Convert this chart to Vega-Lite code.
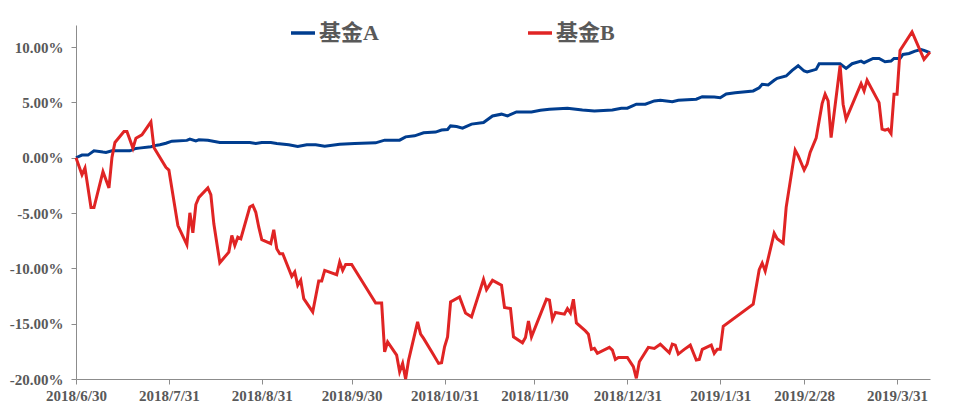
{
  "$schema": "https://vega.github.io/schema/vega-lite/v6.json",
  "width": 854,
  "height": 354,
  "autosize": "none",
  "padding": {"left": 76, "top": 25, "right": 48, "bottom": 37},
  "background": "white",
  "config": {"view": {"stroke": null}},
  "datasets": {
    "a": [
      {"date":"2018-06-30","value":0},{"date":"2018-07-02","value":0.24},{"date":"2018-07-04","value":0.24},{"date":"2018-07-06","value":0.63},{"date":"2018-07-09","value":0.51},{"date":"2018-07-10","value":0.48},{"date":"2018-07-12","value":0.63},{"date":"2018-07-18","value":0.63},{"date":"2018-07-20","value":0.84},{"date":"2018-07-21","value":0.87},{"date":"2018-07-25","value":0.99},{"date":"2018-07-27","value":1.14},{"date":"2018-07-28","value":1.17},{"date":"2018-07-30","value":1.31},{"date":"2018-08-01","value":1.5},{"date":"2018-08-06","value":1.57},{"date":"2018-08-07","value":1.69},{"date":"2018-08-09","value":1.53},{"date":"2018-08-10","value":1.62},{"date":"2018-08-13","value":1.59},{"date":"2018-08-17","value":1.38},{"date":"2018-08-27","value":1.38},{"date":"2018-08-29","value":1.29},{"date":"2018-08-31","value":1.38},{"date":"2018-09-03","value":1.38},{"date":"2018-09-05","value":1.29},{"date":"2018-09-09","value":1.17},{"date":"2018-09-12","value":1.02},{"date":"2018-09-15","value":1.17},{"date":"2018-09-18","value":1.17},{"date":"2018-09-21","value":1.05},{"date":"2018-09-26","value":1.22},{"date":"2018-10-01","value":1.29},{"date":"2018-10-08","value":1.35},{"date":"2018-10-11","value":1.59},{"date":"2018-10-16","value":1.59},{"date":"2018-10-18","value":1.89},{"date":"2018-10-21","value":1.98},{"date":"2018-10-24","value":2.25},{"date":"2018-10-28","value":2.32},{"date":"2018-10-30","value":2.5},{"date":"2018-11-01","value":2.55},{"date":"2018-11-02","value":2.88},{"date":"2018-11-04","value":2.82},{"date":"2018-11-06","value":2.68},{"date":"2018-11-09","value":3.04},{"date":"2018-11-13","value":3.18},{"date":"2018-11-16","value":3.78},{"date":"2018-11-19","value":3.94},{"date":"2018-11-21","value":3.78},{"date":"2018-11-24","value":4.14},{"date":"2018-11-29","value":4.14},{"date":"2018-12-02","value":4.3},{"date":"2018-12-05","value":4.39},{"date":"2018-12-11","value":4.48},{"date":"2018-12-16","value":4.32},{"date":"2018-12-20","value":4.23},{"date":"2018-12-26","value":4.32},{"date":"2018-12-29","value":4.48},{"date":"2018-12-31","value":4.48},{"date":"2019-01-03","value":4.84},{"date":"2019-01-06","value":4.84},{"date":"2019-01-09","value":5.14},{"date":"2019-01-11","value":5.2},{"date":"2019-01-15","value":5.07},{"date":"2019-01-17","value":5.2},{"date":"2019-01-23","value":5.29},{"date":"2019-01-25","value":5.52},{"date":"2019-01-29","value":5.5},{"date":"2019-01-31","value":5.43},{"date":"2019-02-02","value":5.77},{"date":"2019-02-05","value":5.88},{"date":"2019-02-11","value":6.04},{"date":"2019-02-13","value":6.33},{"date":"2019-02-14","value":6.64},{"date":"2019-02-16","value":6.58},{"date":"2019-02-18","value":7.0},{"date":"2019-02-19","value":7.18},{"date":"2019-02-22","value":7.39},{"date":"2019-02-24","value":7.9},{"date":"2019-02-26","value":8.32},{"date":"2019-02-28","value":7.84},{"date":"2019-03-01","value":7.75},{"date":"2019-03-04","value":7.99},{"date":"2019-03-05","value":8.5},{"date":"2019-03-12","value":8.5},{"date":"2019-03-14","value":8.08},{"date":"2019-03-16","value":8.5},{"date":"2019-03-19","value":8.74},{"date":"2019-03-20","value":8.59},{"date":"2019-03-23","value":8.98},{"date":"2019-03-25","value":8.98},{"date":"2019-03-27","value":8.68},{"date":"2019-03-29","value":8.74},{"date":"2019-03-30","value":8.98},{"date":"2019-04-01","value":8.98},{"date":"2019-04-02","value":9.34},{"date":"2019-04-04","value":9.43},{"date":"2019-04-06","value":9.64},{"date":"2019-04-08","value":9.79},{"date":"2019-04-09","value":9.7},{"date":"2019-04-11","value":9.49}
    ],
    "b": [
      {"date":"2018-06-30","value":0},{"date":"2018-07-02","value":-1.53},{"date":"2018-07-03","value":-0.93},{"date":"2018-07-05","value":-4.5},{"date":"2018-07-06","value":-4.5},{"date":"2018-07-09","value":-1.26},{"date":"2018-07-11","value":-2.73},{"date":"2018-07-12","value":0.03},{"date":"2018-07-13","value":1.38},{"date":"2018-07-16","value":2.37},{"date":"2018-07-17","value":2.37},{"date":"2018-07-19","value":0.87},{"date":"2018-07-20","value":1.77},{"date":"2018-07-22","value":2.07},{"date":"2018-07-25","value":3.24},{"date":"2018-07-26","value":0.93},{"date":"2018-07-30","value":-0.87},{"date":"2018-07-31","value":-1.11},{"date":"2018-08-03","value":-6.13},{"date":"2018-08-06","value":-7.86},{"date":"2018-08-07","value":-4.98},{"date":"2018-08-08","value":-6.78},{"date":"2018-08-09","value":-4.23},{"date":"2018-08-10","value":-3.58},{"date":"2018-08-13","value":-2.73},{"date":"2018-08-14","value":-3.33},{"date":"2018-08-15","value":-5.97},{"date":"2018-08-17","value":-9.49},{"date":"2018-08-20","value":-8.53},{"date":"2018-08-21","value":-7.03},{"date":"2018-08-22","value":-7.93},{"date":"2018-08-23","value":-7.18},{"date":"2018-08-24","value":-7.32},{"date":"2018-08-27","value":-4.45},{"date":"2018-08-28","value":-4.3},{"date":"2018-08-29","value":-4.93},{"date":"2018-08-30","value":-6.28},{"date":"2018-08-31","value":-7.41},{"date":"2018-09-03","value":-7.77},{"date":"2018-09-04","value":-6.51},{"date":"2018-09-05","value":-8.23},{"date":"2018-09-06","value":-8.68},{"date":"2018-09-07","value":-8.68},{"date":"2018-09-10","value":-10.72},{"date":"2018-09-11","value":-10.33},{"date":"2018-09-12","value":-11.53},{"date":"2018-09-13","value":-11.08},{"date":"2018-09-14","value":-12.73},{"date":"2018-09-17","value":-13.94},{"date":"2018-09-19","value":-11.14},{"date":"2018-09-20","value":-11.14},{"date":"2018-09-21","value":-10.18},{"date":"2018-09-25","value":-10.57},{"date":"2018-09-26","value":-9.43},{"date":"2018-09-27","value":-10.18},{"date":"2018-09-28","value":-9.64},{"date":"2018-09-30","value":-9.64},{"date":"2018-10-08","value":-13.13},{"date":"2018-10-10","value":-13.13},{"date":"2018-10-11","value":-17.54},{"date":"2018-10-12","value":-16.64},{"date":"2018-10-15","value":-17.84},{"date":"2018-10-16","value":-19.34},{"date":"2018-10-17","value":-18.59},{"date":"2018-10-18","value":-20.0},{"date":"2018-10-19","value":-18.29},{"date":"2018-10-22","value":-14.84},{"date":"2018-10-23","value":-15.95},{"date":"2018-10-24","value":-16.33},{"date":"2018-10-27","value":-17.68},{"date":"2018-10-29","value":-18.59},{"date":"2018-10-30","value":-18.53},{"date":"2018-10-31","value":-17.09},{"date":"2018-11-01","value":-16.19},{"date":"2018-11-02","value":-13.04},{"date":"2018-11-05","value":-12.59},{"date":"2018-11-07","value":-14.03},{"date":"2018-11-09","value":-14.39},{"date":"2018-11-13","value":-10.99},{"date":"2018-11-14","value":-11.92},{"date":"2018-11-16","value":-11.08},{"date":"2018-11-19","value":-11.53},{"date":"2018-11-20","value":-13.54},{"date":"2018-11-22","value":-13.63},{"date":"2018-11-23","value":-16.19},{"date":"2018-11-26","value":-16.73},{"date":"2018-11-27","value":-16.24},{"date":"2018-11-28","value":-14.77},{"date":"2018-11-29","value":-16.19},{"date":"2018-12-04","value":-12.79},{"date":"2018-12-05","value":-12.88},{"date":"2018-12-06","value":-14.62},{"date":"2018-12-07","value":-13.99},{"date":"2018-12-10","value":-14.14},{"date":"2018-12-11","value":-13.63},{"date":"2018-12-12","value":-14.03},{"date":"2018-12-13","value":-12.79},{"date":"2018-12-14","value":-14.93},{"date":"2018-12-17","value":-15.65},{"date":"2018-12-18","value":-15.95},{"date":"2018-12-19","value":-17.32},{"date":"2018-12-20","value":-17.23},{"date":"2018-12-21","value":-17.68},{"date":"2018-12-25","value":-17.14},{"date":"2018-12-26","value":-17.39},{"date":"2018-12-27","value":-18.23},{"date":"2018-12-28","value":-18.05},{"date":"2018-12-31","value":-18.05},{"date":"2019-01-02","value":-18.89},{"date":"2019-01-03","value":-19.94},{"date":"2019-01-04","value":-18.44},{"date":"2019-01-07","value":-17.14},{"date":"2019-01-09","value":-17.23},{"date":"2019-01-11","value":-16.85},{"date":"2019-01-14","value":-17.63},{"date":"2019-01-15","value":-16.85},{"date":"2019-01-16","value":-16.94},{"date":"2019-01-17","value":-17.75},{"date":"2019-01-19","value":-17.32},{"date":"2019-01-21","value":-16.94},{"date":"2019-01-23","value":-18.29},{"date":"2019-01-24","value":-18.23},{"date":"2019-01-25","value":-17.32},{"date":"2019-01-28","value":-16.94},{"date":"2019-01-29","value":-17.68},{"date":"2019-01-30","value":-17.32},{"date":"2019-01-31","value":-17.32},{"date":"2019-02-01","value":-15.23},{"date":"2019-02-11","value":-13.24},{"date":"2019-02-13","value":-10.12},{"date":"2019-02-14","value":-9.52},{"date":"2019-02-15","value":-10.24},{"date":"2019-02-18","value":-6.82},{"date":"2019-02-19","value":-7.32},{"date":"2019-02-21","value":-7.72},{"date":"2019-02-22","value":-4.48},{"date":"2019-02-25","value":0.69},{"date":"2019-02-26","value":0.18},{"date":"2019-02-28","value":-1.11},{"date":"2019-03-01","value":-0.57},{"date":"2019-03-02","value":0.48},{"date":"2019-03-04","value":1.77},{"date":"2019-03-06","value":4.89},{"date":"2019-03-07","value":5.74},{"date":"2019-03-08","value":5.14},{"date":"2019-03-09","value":1.83},{"date":"2019-03-12","value":8.35},{"date":"2019-03-13","value":4.84},{"date":"2019-03-14","value":3.49},{"date":"2019-03-19","value":6.69},{"date":"2019-03-20","value":6.04},{"date":"2019-03-21","value":7.0},{"date":"2019-03-25","value":4.98},{"date":"2019-03-26","value":2.59},{"date":"2019-03-27","value":2.5},{"date":"2019-03-28","value":2.59},{"date":"2019-03-29","value":2.19},{"date":"2019-03-30","value":5.74},{"date":"2019-03-31","value":5.74},{"date":"2019-04-01","value":9.7},{"date":"2019-04-05","value":11.38},{"date":"2019-04-09","value":8.89},{"date":"2019-04-11","value":9.55}
    ]
  },
  "layer": [
    {
      "data": {"name": "a"},
      "mark": {"type": "line", "strokeWidth": 3},
      "encoding": {
        "x": {"field": "date", "type": "temporal"},
        "y": {"field": "value", "type": "quantitative"},
        "color": {"datum": "基金A"}
      }
    },
    {
      "data": {"name": "b"},
      "mark": {"type": "line", "strokeWidth": 3},
      "encoding": {
        "x": {"field": "date", "type": "temporal"},
        "y": {"field": "value", "type": "quantitative"},
        "color": {"datum": "基金B"}
      }
    }
  ],
  "encoding": {
    "x": {
      "field": "date",
      "type": "temporal",
      "title": null,
      "scale": {
        "type": "utc",
        "domain": [
          {"year": 2018, "month": 6, "date": 30, "utc": true},
          {"year": 2019, "month": 4, "date": 11, "utc": true}
        ],
        "nice": false
      },
      "axis": {
        "values": [
          {"year": 2018, "month": 6, "date": 30, "utc": true},
          {"year": 2018, "month": 7, "date": 31, "utc": true},
          {"year": 2018, "month": 8, "date": 31, "utc": true},
          {"year": 2018, "month": 9, "date": 30, "utc": true},
          {"year": 2018, "month": 10, "date": 31, "utc": true},
          {"year": 2018, "month": 11, "date": 30, "utc": true},
          {"year": 2018, "month": 12, "date": 31, "utc": true},
          {"year": 2019, "month": 1, "date": 31, "utc": true},
          {"year": 2019, "month": 2, "date": 28, "utc": true},
          {"year": 2019, "month": 3, "date": 31, "utc": true}
        ],
        "format": "%Y/%-m/%-d",
        "grid": false,
        "domainColor": "#8c8c8c",
        "tickColor": "#8c8c8c",
        "tickSize": 5,
        "labelFont": "Liberation Serif",
        "labelFontWeight": "bold",
        "labelFontSize": 15,
        "labelColor": "#595959",
        "labelPadding": 4,
        "labelFlush": false,
        "labelOverlap": false
      }
    },
    "y": {
      "field": "value",
      "type": "quantitative",
      "title": null,
      "scale": {"domain": [-20, 12], "nice": false, "zero": false},
      "axis": {
        "values": [-20, -15, -10, -5, 0, 5, 10],
        "labelExpr": "replace(format(datum.value, '.2f'), '\u2212', '-') + '%'",
        "grid": false,
        "domainColor": "#8c8c8c",
        "tickColor": "#8c8c8c",
        "tickSize": 5,
        "labelFont": "Liberation Serif",
        "labelFontWeight": "bold",
        "labelFontSize": 15,
        "labelColor": "#595959",
        "labelPadding": 8
      }
    },
    "color": {
      "type": "nominal",
      "scale": {"domain": ["基金A", "基金B"], "range": ["#003D8F", "#E02424"]},
      "legend": {
        "title": null,
        "orient": "none",
        "legendX": 213,
        "legendY": -6,
        "direction": "horizontal",
        "columns": 2,
        "columnPadding": 142,
        "symbolType": "stroke",
        "symbolStrokeWidth": 3.5,
        "symbolSize": 576,
        "labelFont": "Liberation Serif, Noto Sans CJK SC",
        "labelFontWeight": "bold",
        "labelFontSize": 22,
        "labelColor": "#595959",
        "labelOffset": 2,
        "labelLimit": 200
      }
    }
  }
}
